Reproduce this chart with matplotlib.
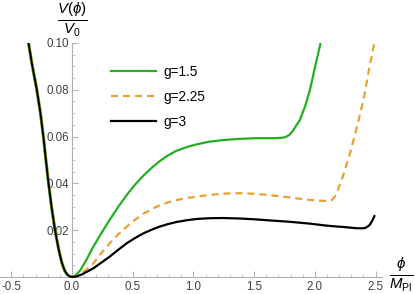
import matplotlib
matplotlib.use("Agg")
import matplotlib.pyplot as plt
from matplotlib.ticker import MultipleLocator, FixedLocator

plt.rcParams['font.family'] = ['Liberation Sans', 'DejaVu Sans']
plt.rcParams['mathtext.fontset'] = 'custom'
plt.rcParams['mathtext.it'] = 'Liberation Sans:italic'
plt.rcParams['mathtext.rm'] = 'Liberation Sans'

labels = ["g=1.5", "g=2.25", "g=3"]

# shared left branch (all curves coincide for phi < 0)
phi_left = [-0.36, -0.33, -0.29, -0.26, -0.236, -0.215, -0.195, -0.17, -0.14, -0.11, -0.085, -0.06, -0.04, -0.02, 0.0]
v_left = [0.1005, 0.091, 0.080, 0.070, 0.060, 0.050, 0.0407, 0.0305, 0.020, 0.0118, 0.0063, 0.0027, 0.0011, 0.0003, 0.0]

phi_g15 = [0.0, 0.03, 0.07, 0.12, 0.175, 0.24, 0.31, 0.38, 0.45, 0.52, 0.59, 0.66, 0.72, 0.79, 0.86, 0.95, 1.03,
           1.12, 1.245, 1.38, 1.52, 1.64, 1.72, 1.76, 1.79, 1.82, 1.85, 1.876, 1.92, 1.96, 2.00, 2.05]
v_g15 = [0.0, 0.0007, 0.0030, 0.0075, 0.0129, 0.0186, 0.0244, 0.0299, 0.035, 0.0395, 0.0434, 0.0468, 0.0494, 0.0519, 0.0539, 0.0556, 0.0567,
         0.0577, 0.0585, 0.0590, 0.0593, 0.0593, 0.0594, 0.0598, 0.0607, 0.0625, 0.065, 0.067, 0.0730, 0.080, 0.0895, 0.1006]

phi_g225 = [0.0, 0.04, 0.08, 0.12, 0.175, 0.24, 0.31, 0.38, 0.45, 0.52, 0.59, 0.66, 0.72, 0.79, 0.86, 0.95, 1.03,
            1.12, 1.245, 1.38, 1.52, 1.65, 1.79, 1.876, 1.96, 2.04, 2.10, 2.14, 2.16, 2.18, 2.23, 2.29, 2.34, 2.40, 2.45, 2.49]
v_g225 = [0.0, 0.0005, 0.0016, 0.0034, 0.0058, 0.0101, 0.0144, 0.0182, 0.0215, 0.0245, 0.0271, 0.0291, 0.0306, 0.0319, 0.0329, 0.0338, 0.0343,
          0.0350, 0.0356, 0.0358, 0.0355, 0.0348, 0.034, 0.0334, 0.0329, 0.0326, 0.0325, 0.0329, 0.0340, 0.0358, 0.0429, 0.0529, 0.0628, 0.0756, 0.0899, 0.0999]

phi_g3 = [0.0, 0.04, 0.08, 0.12, 0.175, 0.24, 0.31, 0.38, 0.45, 0.52, 0.59, 0.66, 0.72, 0.79, 0.86, 0.95, 1.03,
          1.12, 1.245, 1.38, 1.52, 1.65, 1.79, 1.876, 1.96, 2.07, 2.15, 2.25, 2.33, 2.38, 2.41, 2.43, 2.45, 2.47, 2.49]
v_g3 = [0.0, 0.0003, 0.0011, 0.0022, 0.0037, 0.0061, 0.0087, 0.0116, 0.0144, 0.0167, 0.0187, 0.0203, 0.0215, 0.0226, 0.0235, 0.0243, 0.0248,
        0.0251, 0.0252, 0.0250, 0.0246, 0.0241, 0.0236, 0.0232, 0.0228, 0.0221, 0.0217, 0.0213, 0.0209, 0.0208, 0.0209, 0.0214, 0.0222, 0.0238, 0.026]

colors = ['#22b022', '#e8a232', '#000000']

fig = plt.figure(figsize=(4.15, 2.94), dpi=100)
ax = fig.add_axes([0.0, 0.0537, 0.920, 0.8006])
ax.set_xlim(-0.593, 2.551)
ax.set_ylim(-0.0005, 0.1)

# left branch drawn for each curve (green, orange, black on top)
ax.plot(phi_left, v_left, color=colors[0], lw=2.2, zorder=3)
ax.plot(phi_left, v_left, color=colors[1], lw=1.6, zorder=3.5)
ax.plot(phi_left, v_left, color=colors[2], lw=1.4, zorder=4)

ax.plot(phi_g15, v_g15, color=colors[0], lw=1.6, label=labels[0], zorder=3)
ax.plot(phi_g225, v_g225, color=colors[1], lw=1.6, dashes=(3.2, 2.2), label=labels[1], zorder=3.5)
ax.plot(phi_g3, v_g3, color=colors[2], lw=1.6, label=labels[2], zorder=4)

for s in ['top', 'right']:
    ax.spines[s].set_visible(False)
ax.spines['left'].set_position(('data', 0))
ax.spines['bottom'].set_position(('data', 0))
for s in ['left', 'bottom']:
    ax.spines[s].set_color('#b0b0b0')
    ax.spines[s].set_linewidth(0.8)
ax.spines['left'].set_bounds(0, 0.1)

ax.xaxis.set_major_locator(FixedLocator([-0.5, 0.0, 0.5, 1.0, 1.5, 2.0, 2.5]))
ax.xaxis.set_minor_locator(MultipleLocator(0.1))
ax.yaxis.set_major_locator(FixedLocator([0.02, 0.04, 0.06, 0.08, 0.10]))
ax.yaxis.set_minor_locator(MultipleLocator(0.005))
ax.set_xticklabels(['-0.5', '0.0', '0.5', '1.0', '1.5', '2.0', '2.5'])
ax.set_yticklabels(['0.02', '0.04', '0.06', '0.08', '0.10'])
ax.tick_params(axis='both', which='major', length=4, width=0.7, color='#b0b0b0',
               labelsize=8.3, labelcolor='#404040', direction='in')
ax.tick_params(axis='both', which='minor', length=2, width=0.6, color='#c0c0c0', direction='in')
ax.tick_params(axis='x', pad=3)
ax.tick_params(axis='y', pad=2)

ax.legend(loc='upper left', bbox_to_anchor=(0.258, 0.957), frameon=False, fontsize=9.8,
          handlelength=3.3, handletextpad=0.6, labelspacing=0.8)

fig.text(72 / 415, 1 - 19.5 / 294, r'$\frac{V(\phi)}{V_0}$', ha='center', va='center', fontsize=15.5)
fig.text(401 / 415, 1 - 275 / 294, r'$\frac{\phi}{M_{\rm Pl}}$', ha='center', va='center', fontsize=15.5)

fig.savefig('out.png', dpi=100)
